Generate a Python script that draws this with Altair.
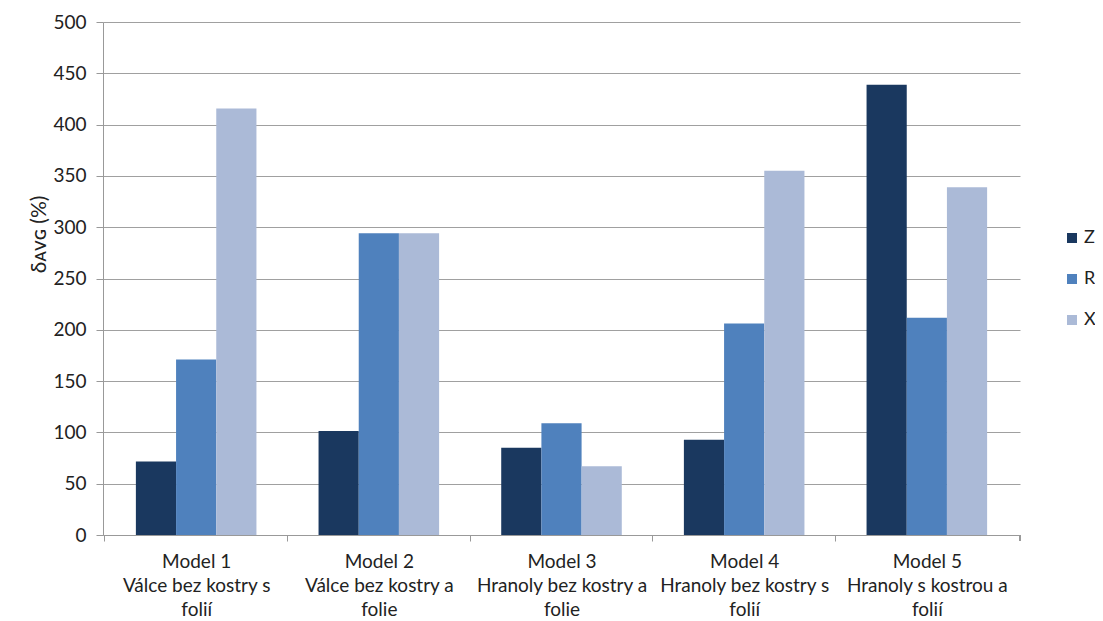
import altair as alt
import pandas as pd

models = [
    "Model 1|Válce bez kostry s|folií",
    "Model 2|Válce bez kostry a|folie",
    "Model 3|Hranoly bez kostry a|folie",
    "Model 4|Hranoly bez kostry s|folií",
    "Model 5|Hranoly s kostrou a|folií",
]
series = ["Z", "R", "X"]
z_vals = [71.6, 101.3, 85.0, 92.8, 438.8]
r_vals = [171.0, 294.0, 108.8, 206.2, 211.7]
x_vals = [415.6, 294.0, 67.0, 355.0, 339.0]
colors = ["#1a385f", "#4f81bd", "#abbad7"]
y_ticks = list(range(0, 501, 50))

rows = []
for i, m in enumerate(models):
    for s, vals in zip(series, [z_vals, r_vals, x_vals]):
        rows.append({"model": m, "series": s, "value": vals[i]})
df = pd.DataFrame(rows)

FONT = "Lato"
TXT = "#222222"
AXC = "#999999"
W, H = 917, 513
STEP = W / len(models)

bars = alt.Chart(df).mark_bar().encode(
    x=alt.X(
        "model:N",
        sort=models,
        scale=alt.Scale(paddingInner=0.34, paddingOuter=0.18),
        axis=alt.Axis(
            title=None,
            labelAngle=0,
            labelExpr="split(datum.label, '|')",
            labelFontSize=19,
            labelFont=FONT,
            labelColor=TXT,
            labelLineHeight=24,
            labelPadding=11,
            labelBaseline="top",
            tickOffset=-STEP / 2,
            labelOffset=STEP / 2,
            tickSize=6,
            tickColor=AXC,
            domainColor=AXC,
            grid=False,
        ),
    ),
    xOffset=alt.XOffset("series:N", sort=series, scale=alt.Scale(paddingInner=0, paddingOuter=0)),
    y=alt.Y(
        "value:Q",
        scale=alt.Scale(domain=[0, 500], nice=False),
        axis=alt.Axis(
            title="δᴀᴠɢ (%)",
            titleFont=FONT,
            titleFontSize=21,
            titleFontWeight="normal",
            titleColor=TXT,
            titleX=-64,
            titleY=212,
            titleAngle=-90,
            titleAlign="center",
            titleBaseline="middle",
            values=y_ticks,
            labelFontSize=19,
            labelFont=FONT,
            labelColor=TXT,
            labelPadding=10,
            tickSize=7,
            tickColor=AXC,
            domainColor=AXC,
            gridColor="#a0a0a0",
            gridWidth=1,
        ),
    ),
    color=alt.Color(
        "series:N",
        sort=series,
        scale=alt.Scale(domain=series, range=colors),
        legend=alt.Legend(
            title=None,
            orient="none",
            legendX=960,
            legendY=207,
            symbolType="square",
            symbolSize=100,
            symbolStrokeWidth=0,
            symbolOffset=0,
            labelFontSize=18,
            labelFont=FONT,
            labelColor=TXT,
            labelOffset=3,
            rowPadding=23,
            padding=0,
        ),
    ),
)

end_tick = alt.Chart(df).mark_rule(color=AXC).encode(
    x=alt.value(W), y=alt.value(H), y2=alt.value(H + 6)
)

chart = alt.layer(bars, end_tick).properties(
    width=W,
    height=H,
    autosize=alt.AutoSizeParams(type="none"),
    padding={"left": 95, "top": 14, "right": 75, "bottom": 84},
).configure_view(stroke=None)

chart.save("out.html", embed_options={"renderer": "svg", "actions": False})
